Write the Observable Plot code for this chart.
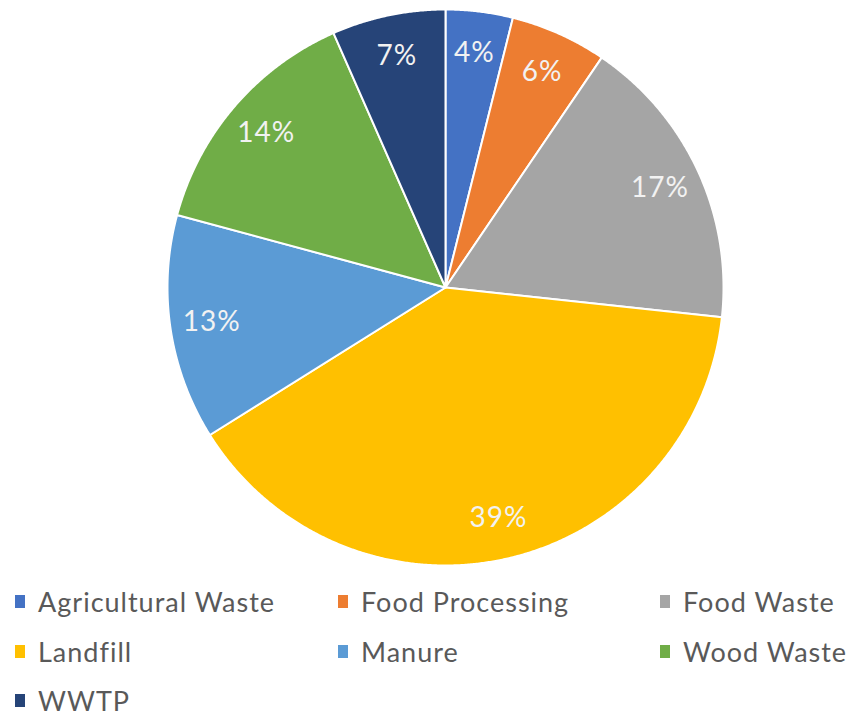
<!DOCTYPE html>
<html>
<head>
<meta charset="utf-8">
<script src="https://cdn.jsdelivr.net/npm/d3@7"></script>
<script src="https://cdn.jsdelivr.net/npm/@observablehq/plot@0.6"></script>
<style>
  body { margin: 0; background: #fff; font-family: Lato, "Open Sans", sans-serif; }
  #wrap { position: relative; width: 854px; height: 715px; }
  #chart svg { display: block; }
  #legend { position: absolute; left: 0; top: 0; width: 854px; }
  .item { position: absolute; display: flex; align-items: center; height: 30px; font-size: 27px; letter-spacing: 1px; color: #595959; white-space: nowrap; transform: translateY(-50%); }
  .sw { width: 10px; height: 13px; margin-right: 13px; flex: none; }
</style>
</head>
<body>
<div id="wrap">
  <div id="chart"></div>
  <div id="legend"></div>
</div>
<script>
const categories = ["Agricultural Waste", "Food Processing", "Food Waste", "Landfill", "Manure", "Wood Waste", "WWTP"];
const values = [3.9, 5.6, 17.2, 39.4, 13.1, 14.2, 6.6];
const colors = ["#4472C4", "#ED7D31", "#A5A5A5", "#FFC000", "#5B9BD5", "#70AD47", "#264478"];
const labels = ["4%", "6%", "17%", "39%", "13%", "14%", "7%"];

const total = d3.sum(values);
const slicePts = [];
const labelPts = [];
let acc = 0;
categories.forEach((c, i) => {
  const a0 = acc / total * 2 * Math.PI;
  acc += values[i];
  const a1 = acc / total * 2 * Math.PI;
  slicePts.push({cat: c, x: 0, y: 0});
  const n = Math.max(4, Math.ceil((a1 - a0) / 0.005));
  for (let k = 0; k <= n; k++) {
    const a = a0 + (a1 - a0) * k / n;
    slicePts.push({cat: c, x: Math.sin(a), y: Math.cos(a)});
  }
  const am = (a0 + a1) / 2;
  labelPts.push({cat: c, label: labels[i], x: 0.85 * Math.sin(am), y: 0.85 * Math.cos(am)});
});

const chart = Plot.plot({
  width: 854,
  height: 575,
  marginLeft: 167,
  marginRight: 131,
  marginTop: 9,
  marginBottom: 10,
  x: {domain: [-1, 1], axis: null},
  y: {domain: [-1, 1], axis: null},
  color: {domain: categories, range: colors},
  marks: [
    Plot.line(slicePts, {x: "x", y: "y", z: "cat", fill: "cat", stroke: "white", strokeWidth: 2, curve: "linear-closed", strokeLinejoin: "round"}),
    Plot.text(labelPts, {x: "x", y: "y", text: "label", fill: "#f2f2f2", fontSize: 28, fontFamily: "Lato, 'Open Sans', sans-serif"})
  ]
});
chart.querySelectorAll("text").forEach(t => t.style.letterSpacing = "1px");
document.getElementById("chart").appendChild(chart);

const legend = document.getElementById("legend");
const colX = [15, 338, 660];
const rowY = [601, 651, 700];
categories.forEach((c, i) => {
  const row = Math.floor(i / 3), col = i % 3;
  const el = document.createElement("div");
  el.className = "item";
  el.style.left = colX[col] + "px";
  el.style.top = rowY[row] + "px";
  el.innerHTML = `<span class="sw" style="background:${colors[i]}"></span><span>${c}</span>`;
  legend.appendChild(el);
});
</script>
</body>
</html>
